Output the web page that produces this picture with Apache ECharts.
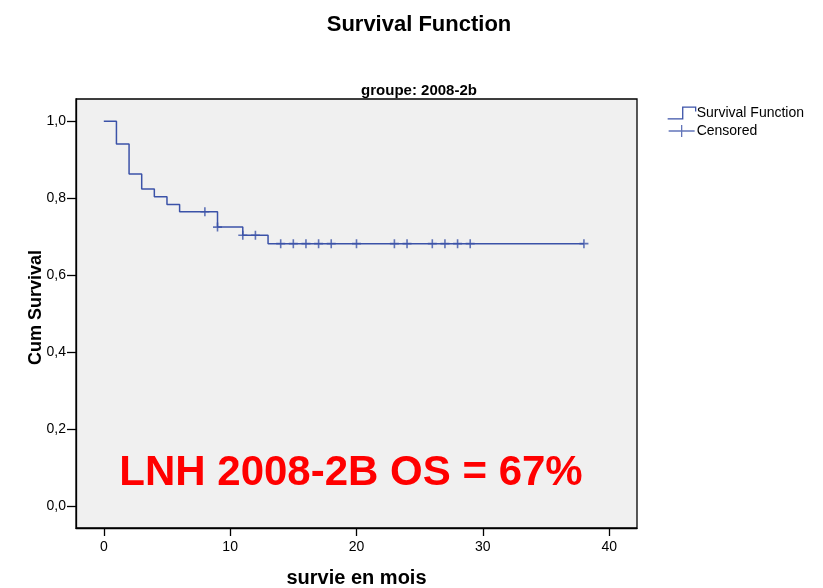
<!DOCTYPE html>
<html>
<head>
<meta charset="utf-8">
<script src="https://cdn.jsdelivr.net/npm/echarts@6/dist/echarts.min.js"></script>
<style>html,body{margin:0;padding:0;background:#fff;}#c{width:823px;height:588px;}</style>
</head>
<body>
<div id="c"></div>
<script>
// Kaplan-Meier step points (time in months, cumulative survival)
var stepTimes = [0, 1, 2, 3, 4, 5, 6, 9, 11, 13, 38];
var stepSurvival = [1.0, 0.941, 0.863, 0.824, 0.804, 0.784, 0.765, 0.725, 0.704, 0.682, 0.682];
// Censored observations
var censoredTimes = [8, 9, 11, 12, 14, 15, 16, 17, 18, 20, 23, 24, 26, 27, 28, 29, 38];
var censoredSurvival = [0.765, 0.725, 0.704, 0.704, 0.682, 0.682, 0.682, 0.682, 0.682, 0.682, 0.682, 0.682, 0.682, 0.682, 0.682, 0.682, 0.682];
// Axis ticks
var xTicks = [0, 10, 20, 30, 40];
var yTicks = [0, 0.2, 0.4, 0.6, 0.8, 1.0];
var yTickLabels = ['0,0', '0,2', '0,4', '0,6', '0,8', '1,0'];

var lineColor = '#3b52a8';
var font = 'Liberation Sans, Arial, sans-serif';

var chart = echarts.init(document.getElementById('c'));
var stepData = stepTimes.map(function (t, i) { return [t, stepSurvival[i]]; });
var censData = censoredTimes.map(function (t, i) { return [t, censoredSurvival[i]]; });

chart.setOption({
  animation: false,
  backgroundColor: '#ffffff',
  title: [
    { text: 'Survival Function', left: 414, top: 9, textAlign: 'center',
      textStyle: { fontFamily: font, fontSize: 22, fontWeight: 'bold', color: '#000' } },
    { text: 'groupe: 2008-2b', left: 414, top: 78, textAlign: 'center',
      textStyle: { fontFamily: font, fontSize: 15, fontWeight: 'bold', color: '#000' } },
    { text: 'LNH 2008-2B OS = 67%', left: 346, top: 447, textAlign: 'center',
      textStyle: { fontFamily: font, fontSize: 42, fontWeight: 'bold', color: '#ff0000' } }
  ],
  legend: {
    orient: 'vertical', left: 662, top: 101, itemGap: 4, itemWidth: 28, itemHeight: 12,
    textStyle: { fontFamily: font, fontSize: 14, color: '#000', padding: [0, 0, 0, -4] },
    data: [
      { name: 'Survival Function', icon: 'path://M0,12L14,12L14,1L26,1L26,5',
        itemStyle: { color: 'transparent', borderColor: lineColor, borderWidth: 1.3 } },
      { name: 'Censored', icon: 'path://M0,6L26,6M13,0L13,12',
        itemStyle: { color: 'transparent', borderColor: lineColor, borderWidth: 1.3 } }
    ]
  },
  grid: {
    left: 76, right: 186, top: 99, bottom: 60, show: true, outerBoundsMode: 'none',
    backgroundColor: '#f0f0f0', borderColor: '#000', borderWidth: 1.3
  },
  xAxis: {
    type: 'value', min: -2.2, max: 42.2,
    name: 'survie en mois', nameLocation: 'middle', nameGap: 40,
    nameTextStyle: { fontFamily: font, fontSize: 20, fontWeight: 'bold', color: '#000' },
    axisLine: { show: true, onZero: false, lineStyle: { color: '#000', width: 1.3 } },
    axisTick: { show: true, length: 8, customValues: xTicks, lineStyle: { color: '#000', width: 1.3 } },
    axisLabel: { customValues: xTicks, margin: 12, fontFamily: font, fontSize: 14, color: '#000' },
    splitLine: { show: false }
  },
  yAxis: {
    type: 'value', min: -0.057, max: 1.058,
    name: 'Cum Survival', nameLocation: 'middle', nameGap: 31, nameMoveOverlap: false,
    nameTextStyle: { fontFamily: font, fontSize: 18, fontWeight: 'bold', color: '#000', padding: [0, 0, 0, 12] },
    axisLine: { show: true, onZero: false, lineStyle: { color: '#000', width: 1.3 } },
    axisTick: { show: true, length: 9, customValues: yTicks, lineStyle: { color: '#000', width: 1.3 } },
    axisLabel: {
      customValues: yTicks, margin: 10, fontFamily: font, fontSize: 14, color: '#000',
      formatter: function (v) {
        var idx = yTicks.findIndex(function (t) { return Math.abs(t - v) < 1e-6; });
        return idx >= 0 ? yTickLabels[idx] : '';
      }
    },
    splitLine: { show: false }
  },
  series: [
    {
      name: 'Survival Function', type: 'line', step: 'end', data: stepData,
      showSymbol: false, symbol: 'none',
      lineStyle: { color: lineColor, width: 1.5 }, itemStyle: { color: lineColor }
    },
    {
      name: 'Censored', type: 'scatter', data: censData,
      symbol: 'path://M0,5L10,5M5,0L5,10', symbolSize: 9,
      itemStyle: { color: 'transparent', borderColor: lineColor, borderWidth: 1.6 }
    }
  ]
});
</script>
</body>
</html>
